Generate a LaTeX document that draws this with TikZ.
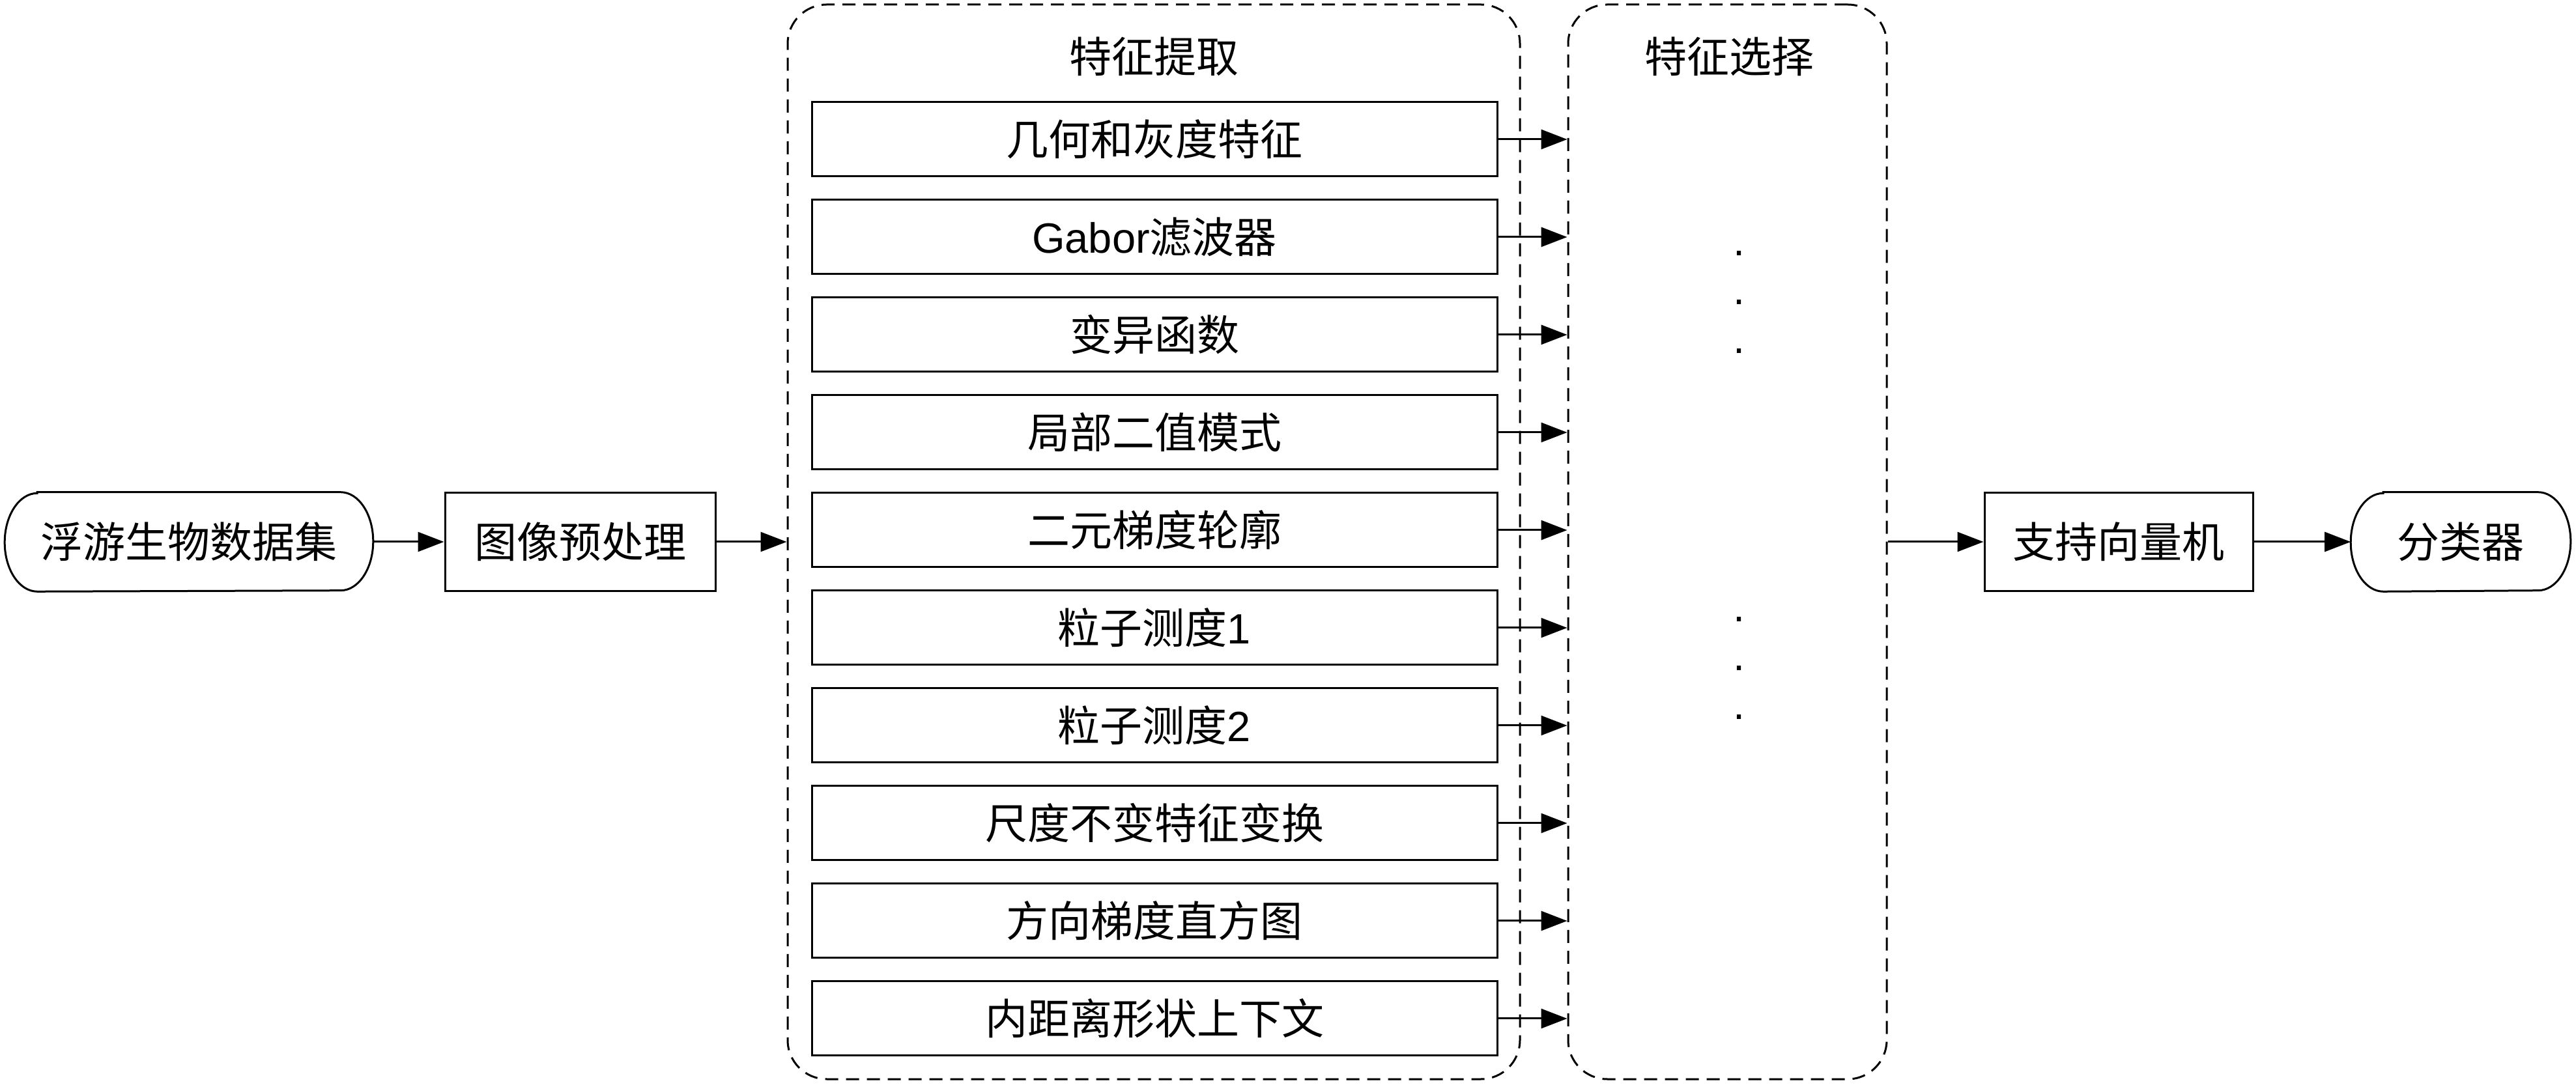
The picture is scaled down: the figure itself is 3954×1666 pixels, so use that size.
\documentclass[tikz,border=0pt]{standalone}
\usepackage{fontspec}
\setmainfont{Noto Sans CJK SC}
\newfontfamily\latin{Liberation Sans}
\usetikzlibrary{arrows.meta}
\begin{document}
\begin{tikzpicture}[x=0.25pt,y=-0.25pt,
  every node/.style={font=\fontsize{16.25pt}{19pt}\selectfont, inner sep=0pt},
  line/.style={line width=0.75pt},
  featbox/.style={line, draw, minimum width=263pt, minimum height=28.5pt},
  flowbox/.style={line, draw, minimum height=37.75pt},
  termnode/.style={minimum height=37.75pt},
  group/.style={line, draw, dash pattern=on 5pt off 3pt, rounded corners=15pt, minimum height=412.5pt},
  arr/.style={line, -{Triangle[length=10pt,width=7.5pt]}},
  dotcol/.style={font=\latin\fontsize{16.25pt}{18.75pt}\selectfont, align=center}
]
\useasboundingbox (0,0) rectangle (3954,1666);

% main flow nodes
\node[termnode, minimum width=141pt] (start) at (290,832) {浮游生物数据集};
\node[flowbox, minimum width=103.75pt] (pre) at (890.5,832) {图像预处理};
\node[flowbox, minimum width=103pt] (svm) at (3252,832) {支持向量机};
\node[termnode, minimum width=84pt] (cls) at (3777,832) {分类器};

% terminator outlines with elliptic ends
\foreach \n in {start,cls}{
  \draw[line] ([xshift=12.5pt]\n.north west) -- ([xshift=-12.5pt]\n.north east)
    arc[start angle=90, end angle=-90, x radius=12.5pt, y radius=18.875pt]
    -- ([xshift=12.5pt]\n.south west)
    arc[start angle=270, end angle=90, x radius=12.5pt, y radius=18.875pt] -- cycle;
}

% dashed groups
\node[group, minimum width=281pt] (ext) at (1771,832) {};
\node[group, minimum width=122.25pt] (sel) at (2651.5,832) {};
\node (extT) at (1771,87) {特征提取};
\node (selT) at (2654,87) {特征选择};

% feature extraction methods
\foreach \t [count=\i] in {几何和灰度特征,{{\latin Gabor}滤波器},变异函数,局部二值模式,二元梯度轮廓,{粒子测度{\latin 1}},{粒子测度{\latin 2}},尺度不变特征变换,方向梯度直方图,内距离形状上下文}
  \node[featbox] (f\i) at (1772,{214+150*(\i-1)}) {\t};

\foreach \i in {1,...,10}
  \draw[arr] (f\i.east) -- (f\i.east -| sel.west);

% selected features
\node[dotcol] (dotsA) at (2670,464) {.\\.\\.};
\node[dotcol] (dotsB) at (2670,1026) {.\\.\\.};

% connectors
\draw[arr] (start.east) -- (pre.west);
\draw[arr] (pre.east) -- (pre.east -| ext.west);
\draw[arr] (svm.west -| sel.east) -- (svm.west);
\draw[arr] (svm.east) -- (cls.west);
\end{tikzpicture}
\end{document}
